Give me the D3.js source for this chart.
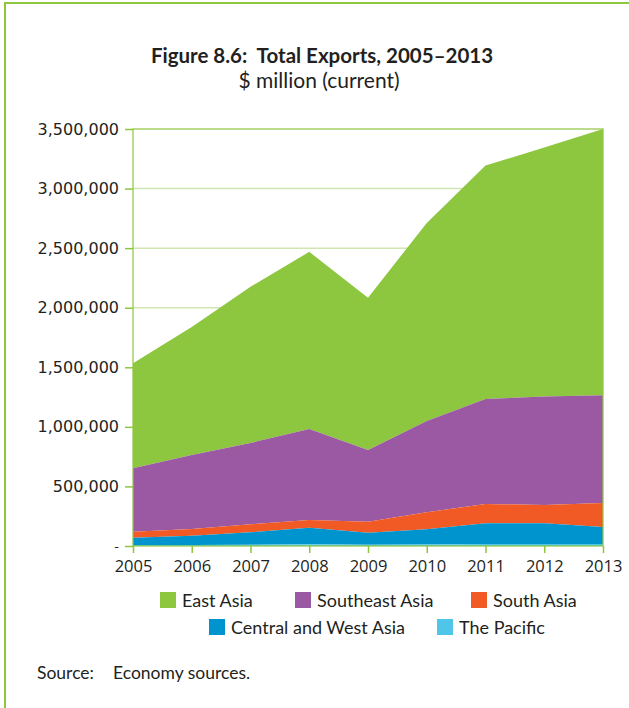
<!DOCTYPE html>
<html>
<head>
<meta charset="utf-8">
<script src="https://cdn.jsdelivr.net/npm/d3@7"></script>
<style>
  html, body { margin: 0; padding: 0; background: #fff; }
  svg { display: block; }
</style>
</head>
<body>
<div id="chart"></div>
<script>
// values in $ million
const years = [2005, 2006, 2007, 2008, 2009, 2010, 2011, 2012, 2013];
const pacific = [8000, 9000, 11000, 14000, 10000, 13000, 17000, 17000, 16000];
const centralWest = [62000, 77000, 104000, 139000, 102000, 127000, 173000, 173000, 144000];
const southAsia = [50000, 57000, 67000, 65000, 92000, 143000, 163000, 154000, 201000];
const southeastAsia = [532000, 621000, 683000, 764000, 602000, 767000, 881000, 910000, 904000];
const eastAsia = [882000, 1075000, 1310000, 1487000, 1277000, 1662000, 1959000, 2090000, 2234000];
const yTicks = [0, 500000, 1000000, 1500000, 2000000, 2500000, 3000000, 3500000];

const seriesNames = ['The Pacific', 'Central and West Asia', 'South Asia', 'Southeast Asia', 'East Asia'];
const seriesCols = ['#4fc6e8', '#0094cf', '#f15a24', '#9a59a2', '#8dc63f'];
const seriesVals = [pacific, centralWest, southAsia, southeastAsia, eastAsia];

const width = 629, height = 708;
const margin = { left: 133, right: 26, top: 129, bottom: 162 };
const axisCol = '#8dc63f';
const gridCol = '#cfe6b2';
const textCol = '#231f20';
const humanist = 'Lato, "Open Sans", sans-serif';

const table = years.map((y, i) => {
  const row = { year: y };
  seriesNames.forEach((s, k) => { row[s] = seriesVals[k][i]; });
  return row;
});
const stacked = d3.stack().keys(seriesNames)(table);

const x = d3.scaleLinear()
  .domain(d3.extent(years))
  .range([margin.left, width - margin.right]);
const y = d3.scaleLinear()
  .domain([0, 3500000])
  .range([height - margin.bottom, margin.top]);

const svg = d3.select('#chart')
  .append('svg')
  .attr('width', width)
  .attr('height', height);

// frame
svg.append('path')
  .attr('d', `M5,${height + 5} V3 H${width + 5}`)
  .attr('fill', 'none')
  .attr('stroke', axisCol)
  .attr('stroke-width', 2);

// title
svg.append('text')
  .attr('x', 322)
  .attr('y', 63)
  .attr('text-anchor', 'middle')
  .style('font-family', humanist)
  .style('font-weight', 'bold')
  .style('font-size', '20.5px')
  .style('white-space', 'pre')
  .style('fill', textCol)
  .text('Figure 8.6:  Total Exports, 2005–2013');

svg.append('text')
  .attr('x', 319)
  .attr('y', 88)
  .attr('text-anchor', 'middle')
  .style('font-family', humanist)
  .style('font-size', '21px')
  .style('fill', textCol)
  .text('$ million (current)');

// gridlines
svg.append('g')
  .selectAll('line')
  .data(yTicks.slice(1, -1))
  .join('line')
  .attr('x1', margin.left)
  .attr('x2', width - margin.right)
  .attr('y1', d => y(d))
  .attr('y2', d => y(d))
  .attr('stroke', gridCol)
  .attr('stroke-width', 1.5);

// areas
const area = d3.area()
  .x(d => x(d.data.year))
  .y0(d => y(d[0]))
  .y1(d => y(d[1]));

svg.append('g')
  .selectAll('path')
  .data(stacked.slice().reverse())
  .join('path')
  .attr('fill', d => seriesCols[seriesNames.indexOf(d.key)])
  .attr('d', area);

// plot frame
svg.append('rect')
  .attr('x', margin.left)
  .attr('y', margin.top)
  .attr('width', width - margin.left - margin.right)
  .attr('height', height - margin.top - margin.bottom)
  .attr('fill', 'none')
  .attr('stroke', axisCol)
  .attr('stroke-width', 1.2);

// y axis
const yAxis = svg.append('g')
  .attr('transform', `translate(${margin.left},0)`)
  .call(d3.axisLeft(y)
    .tickValues(yTicks)
    .tickSize(8)
    .tickPadding(6)
    .tickFormat(d => d === 0 ? '-' : d3.format(',')(d)));
yAxis.select('.domain').remove();
yAxis.selectAll('.tick line').attr('stroke', axisCol).attr('stroke-width', 1.5);
yAxis.selectAll('.tick text')
  .style('font-family', '"DejaVu Sans", Verdana, sans-serif')
  .style('font-size', d => d === 0 ? '13px' : '16px')
  .style('fill', textCol);

// x axis
const xAxis = svg.append('g')
  .attr('transform', `translate(0,${height - margin.bottom})`)
  .call(d3.axisBottom(x)
    .tickValues(years)
    .tickSize(7)
    .tickPadding(7)
    .tickFormat(d3.format('d')));
xAxis.select('.domain').remove();
xAxis.selectAll('.tick line').attr('stroke', axisCol).attr('stroke-width', 1.5);
xAxis.selectAll('.tick text')
  .style('font-family', '"Open Sans", sans-serif')
  .style('font-size', '16.5px')
  .style('fill', textCol);

// legend
const legendRows = [
  [{ name: 'East Asia', x: 160 }, { name: 'Southeast Asia', x: 295 }, { name: 'South Asia', x: 471 }],
  [{ name: 'Central and West Asia', x: 209 }, { name: 'The Pacific', x: 437 }]
];
legendRows.forEach((row, r) => {
  const g = svg.append('g')
    .attr('transform', `translate(0,${592 + r * 27})`);
  const item = g.selectAll('g')
    .data(row)
    .join('g')
    .attr('transform', d => `translate(${d.x},0)`);
  item.append('rect')
    .attr('width', 16)
    .attr('height', 16)
    .attr('fill', d => seriesCols[seriesNames.indexOf(d.name)]);
  item.append('text')
    .attr('x', 22)
    .attr('y', 15)
    .style('font-family', humanist)
    .style('font-size', '18px')
    .style('fill', textCol)
    .text(d => d.name);
});

// source
svg.append('text')
  .attr('x', 37)
  .attr('y', 679)
  .style('font-family', humanist)
  .style('font-size', '17.5px')
  .style('fill', textCol)
  .text('Source:');
svg.append('text')
  .attr('x', 113)
  .attr('y', 679)
  .style('font-family', humanist)
  .style('font-size', '17.5px')
  .style('fill', textCol)
  .text('Economy sources.');
</script>
</body>
</html>
